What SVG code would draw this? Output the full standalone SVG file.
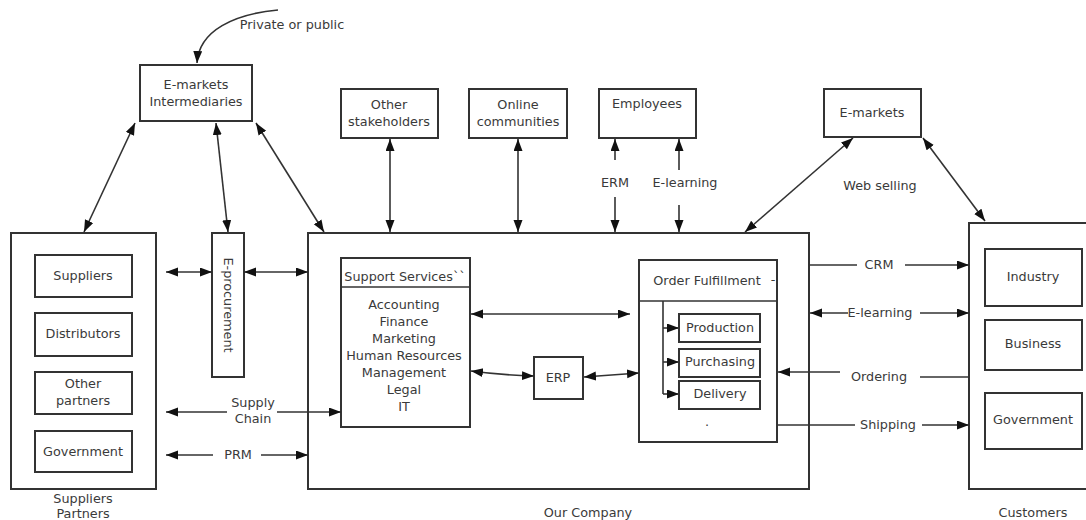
<svg xmlns="http://www.w3.org/2000/svg" width="1086" height="520" viewBox="0 0 1086 520">
<style>
.box{fill:#fff;stroke:#333;stroke-width:2}
.ln{fill:none;stroke:#333;stroke-width:1.6}
text{font-family:"DejaVu Sans","Liberation Sans",sans-serif;font-size:12.8px;fill:#3a3a3a;text-anchor:middle}
</style>
<defs>
<marker id="ah" markerUnits="userSpaceOnUse" markerWidth="13" markerHeight="10" refX="12" refY="4.5" orient="auto-start-reverse"><path d="M0,0 L12,4.5 L0,9 z" fill="#111"/></marker>
</defs>
<g id="suppliers-partners">
<rect class="box" x="11" y="233" width="145" height="256"/>
<text x="83" y="503">Suppliers</text>
<text x="83" y="518">Partners</text>
</g>
<g id="suppliers"><rect class="box" x="35" y="255" width="97" height="42"/><text x="83" y="280">Suppliers</text></g>
<g id="distributors"><rect class="box" x="35" y="313" width="97" height="43"/><text x="83" y="338">Distributors</text></g>
<g id="other-partners"><rect class="box" x="35" y="372" width="97" height="42"/><text x="83" y="388">Other</text><text x="83" y="405">partners</text></g>
<g id="government-left"><rect class="box" x="35" y="431" width="97" height="41"/><text x="83" y="456">Government</text></g>
<g id="e-procurement"><rect class="box" x="212" y="233" width="32" height="144"/><text transform="translate(228,305) rotate(90)" x="0" y="4.5">E-procurement</text></g>
<g id="e-markets-intermediaries"><rect class="box" x="140" y="65" width="112" height="56"/><text x="196" y="89">E-markets</text><text x="196" y="106">Intermediaries</text></g>
<g id="private-public"><text x="292" y="29">Private or public</text></g>
<g id="other-stakeholders"><rect class="box" x="341" y="89" width="97" height="49"/><text x="389" y="109">Other</text><text x="389" y="126">stakeholders</text></g>
<g id="online-communities"><rect class="box" x="469" y="89" width="98" height="49"/><text x="518" y="109">Online</text><text x="518" y="126">communities</text></g>
<g id="employees"><rect class="box" x="599" y="89" width="97" height="49"/><text x="647" y="108">Employees</text></g>
<g id="e-markets"><rect class="box" x="824" y="89" width="97" height="48"/><text x="872" y="117">E-markets</text></g>
<g id="our-company"><rect class="box" x="308" y="233" width="501" height="256"/><text x="588" y="517">Our Company</text></g>
<g id="support-services">
<rect class="box" x="341" y="258" width="129" height="169"/>
<line class="ln" x1="341" y1="287" x2="470" y2="287" stroke-width="2"/>
<text x="405" y="281">Support Services``</text>
<text x="404" y="309">Accounting</text>
<text x="404" y="326">Finance</text>
<text x="404" y="343">Marketing</text>
<text x="404" y="360">Human Resources</text>
<text x="404" y="377">Management</text>
<text x="404" y="394">Legal</text>
<text x="404" y="411">IT</text>
</g>
<g id="erp"><rect class="box" x="534" y="357" width="49" height="42"/><text x="558" y="382">ERP</text></g>
<g id="order-fulfillment">
<rect class="box" x="639" y="260" width="138" height="182"/>
<line class="ln" x1="639" y1="301" x2="777" y2="301" stroke-width="2"/>
<text x="707" y="285">Order Fulfillment</text>
<text x="773" y="284" font-size="9">-</text>
<text x="707" y="426" font-size="9">.</text>
<line class="ln" x1="663" y1="301" x2="663" y2="394"/>
<line class="ln" x1="663" y1="328" x2="679" y2="328" marker-end="url(#ah)"/>
<line class="ln" x1="663" y1="362" x2="679" y2="362" marker-end="url(#ah)"/>
<line class="ln" x1="663" y1="394" x2="679" y2="394" marker-end="url(#ah)"/>
</g>
<g id="production"><rect class="box" x="679" y="314" width="81" height="28"/><text x="720" y="332">Production</text></g>
<g id="purchasing"><rect class="box" x="679" y="349" width="81" height="28"/><text x="720" y="366">Purchasing</text></g>
<g id="delivery"><rect class="box" x="679" y="381" width="81" height="28"/><text x="720" y="398">Delivery</text></g>
<g id="customers"><rect class="box" x="969" y="223" width="125" height="266"/><text x="1033" y="517">Customers</text></g>
<g id="industry"><rect class="box" x="985" y="249" width="97" height="57"/><text x="1033" y="281">Industry</text></g>
<g id="business"><rect class="box" x="985" y="320" width="97" height="50"/><text x="1033" y="348">Business</text></g>
<g id="government-right"><rect class="box" x="985" y="393" width="97" height="56"/><text x="1033" y="424">Government</text></g>
<g id="connectors">
<path class="ln" d="M278,10 C235,14 199,30 197,63" marker-end="url(#ah)"/>
<line class="ln" x1="135" y1="123" x2="84" y2="232" marker-start="url(#ah)" marker-end="url(#ah)"/>
<line class="ln" x1="216" y1="123" x2="228" y2="232" marker-start="url(#ah)" marker-end="url(#ah)"/>
<line class="ln" x1="256" y1="123" x2="324" y2="232" marker-start="url(#ah)" marker-end="url(#ah)"/>
<line class="ln" x1="390" y1="139" x2="390" y2="232" marker-start="url(#ah)" marker-end="url(#ah)"/>
<line class="ln" x1="518" y1="139" x2="518" y2="232" marker-start="url(#ah)" marker-end="url(#ah)"/>
<line class="ln" x1="615" y1="160" x2="615" y2="139" marker-end="url(#ah)"/>
<text x="615" y="187">ERM</text>
<line class="ln" x1="615" y1="197" x2="615" y2="232" marker-end="url(#ah)"/>
<line class="ln" x1="679" y1="170" x2="679" y2="139" marker-end="url(#ah)"/>
<text x="685" y="187">E-learning</text>
<line class="ln" x1="679" y1="205" x2="679" y2="232" marker-end="url(#ah)"/>
<line class="ln" x1="853" y1="138" x2="745" y2="232" marker-start="url(#ah)" marker-end="url(#ah)"/>
<line class="ln" x1="923" y1="138" x2="985" y2="221" marker-start="url(#ah)" marker-end="url(#ah)"/>
<text x="880" y="190">Web selling</text>
<line class="ln" x1="166" y1="272" x2="212" y2="272" marker-start="url(#ah)" marker-end="url(#ah)"/>
<line class="ln" x1="244" y1="272" x2="308" y2="272" marker-start="url(#ah)" marker-end="url(#ah)"/>
<line class="ln" x1="227" y1="412" x2="166" y2="412" marker-end="url(#ah)"/>
<text x="253" y="407">Supply</text>
<text x="253" y="423">Chain</text>
<line class="ln" x1="277" y1="412" x2="341" y2="412" marker-end="url(#ah)"/>
<line class="ln" x1="213" y1="455" x2="166" y2="455" marker-end="url(#ah)"/>
<text x="238" y="459">PRM</text>
<line class="ln" x1="261" y1="455" x2="308" y2="455" marker-end="url(#ah)"/>
<line class="ln" x1="471" y1="314" x2="630" y2="314" marker-start="url(#ah)" marker-end="url(#ah)"/>
<path class="ln" d="M471,371 Q500,375 534,376" marker-start="url(#ah)" marker-end="url(#ah)"/>
<path class="ln" d="M584,377 Q610,375 639,373" marker-start="url(#ah)" marker-end="url(#ah)"/>
<line class="ln" x1="809" y1="265" x2="857" y2="265"/>
<text x="879" y="269">CRM</text>
<line class="ln" x1="905" y1="265" x2="969" y2="265" marker-end="url(#ah)"/>
<line class="ln" x1="848" y1="313" x2="810" y2="313" marker-end="url(#ah)"/>
<text x="880" y="317">E-learning</text>
<line class="ln" x1="920" y1="313" x2="969" y2="313" marker-end="url(#ah)"/>
<line class="ln" x1="969" y1="377" x2="920" y2="377"/>
<text x="879" y="381">Ordering</text>
<line class="ln" x1="840" y1="372" x2="778" y2="372" marker-end="url(#ah)"/>
<line class="ln" x1="777" y1="425" x2="855" y2="425"/>
<text x="888" y="429">Shipping</text>
<line class="ln" x1="922" y1="425" x2="969" y2="425" marker-end="url(#ah)"/>
</g>
</svg>
